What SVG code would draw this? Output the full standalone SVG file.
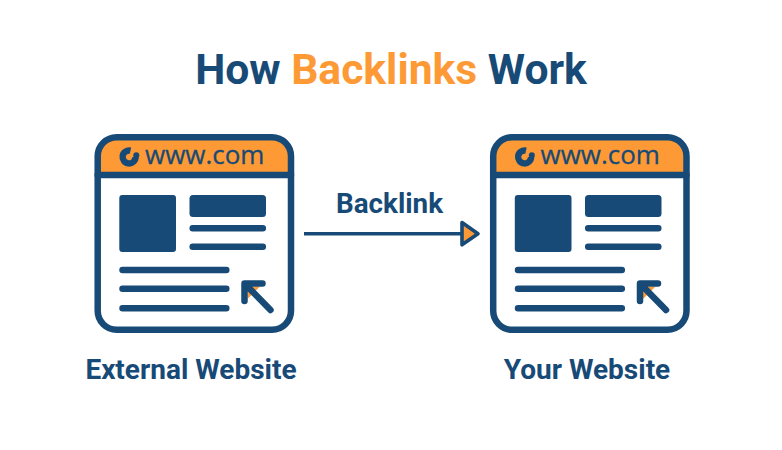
<svg xmlns="http://www.w3.org/2000/svg" width="782" height="450" viewBox="0 0 782 450">
<style>
.t{font-family:Roboto,"Liberation Sans",sans-serif;font-weight:700;fill:#174a76}
.url{font-family:"Open Sans","Noto Sans",sans-serif;font-size:26px;fill:#174a76;stroke:#174a76;stroke-width:.3}
.fg{fill:#174a76}
.ln{stroke:#174a76;stroke-width:6.5;stroke-linecap:round;stroke-linejoin:round;fill:none}
.or{fill:#fd9a35}
</style>
<defs>
<g id="page">
<path d="M97.7 175V156a19 19 0 0 1 19-19H272a19 19 0 0 1 19 19V175Z" class="or"/>
<rect x="97.7" y="137.2" width="193.3" height="192.6" rx="19" class="ln"/>
<path d="M97.7 175H291" class="ln" stroke-linecap="butt"/>
<path d="M130.5 150.6A6.5 6.5 0 1 0 135.6 157" fill="none" stroke="#174a76" stroke-width="6.4"/>
<circle cx="136.3" cy="155.2" r="3" class="fg"/>
<text x="145" y="164" class="url">www.com</text>
<rect x="119.3" y="195" width="56.7" height="57" rx="3" class="fg"/>
<rect x="189.5" y="195" width="76.5" height="22" rx="3.5" class="fg"/>
<path class="ln" d="M192.7 228.3H262.8M192.7 246.7H262.8M122.5 270H226.3M122.5 288.7H226.3M122.5 308.3H226.3"/>
<path d="M247.5 286.5L260 286.5L247.5 299Z" class="or"/>
<path class="ln" d="M244.5 301V283.5H262.5M245 284L270.5 310"/>
</g>
</defs>
<text x="391" y="84" text-anchor="middle" class="t" font-size="42.6"><tspan>How </tspan><tspan class="or">Backlinks</tspan><tspan> Work</tspan></text>
<g id="external-website">
<use href="#page"/>
<text x="191" y="379" text-anchor="middle" class="t" font-size="28">External Website</text>
</g>
<g id="your-website">
<use href="#page" x="395.5"/>
<text x="587" y="379" text-anchor="middle" class="t" font-size="28">Your Website</text>
</g>
<g id="connectors">
<path d="M304 233.7H462" stroke="#174a76" stroke-width="3.6" fill="none"/>
<path d="M462 222.6L478 233.7L462 244.8Z" class="or" stroke="#174a76" stroke-width="3.6" stroke-linejoin="round"/>
<text x="389.5" y="213" text-anchor="middle" class="t" font-size="27.8">Backlink</text>
</g>
</svg>
